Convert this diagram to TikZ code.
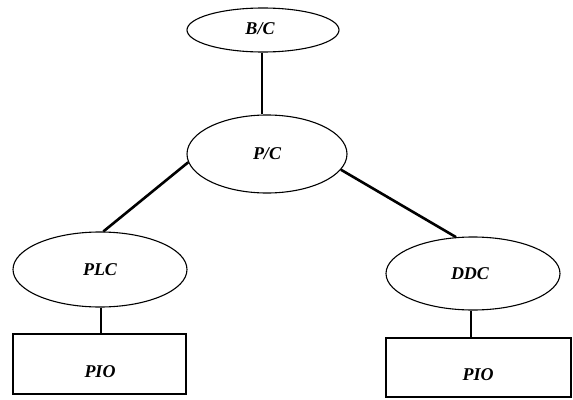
\documentclass[tikz,border=0pt]{standalone}
\usepackage{fontspec}
\setmainfont{Liberation Serif}
\usetikzlibrary{shapes.geometric}
\begin{document}
\begin{tikzpicture}[x=1pt,y=-1pt,
  lbl/.style={font=\fontsize{18}{20}\selectfont\bfseries\itshape, inner sep=0pt},
  unit/.style={draw, ellipse, line width=1.1pt, inner sep=0pt},
  iobox/.style={draw, rectangle, line width=1.1pt, inner sep=0pt},
  link/.style={line width=2.6pt}]
\useasboundingbox (0,0) rectangle (573,399);

% controller hierarchy
\node[unit, minimum width=152pt, minimum height=44pt] (bc) at (263,30) {};
\node[lbl] (bct) at (260,29) {B/C};
\node[unit, minimum width=160pt, minimum height=78pt] (pc) at (267,154) {};
\node[lbl] (pct) at (267,154) {P/C};
\node[unit, minimum width=174pt, minimum height=75pt] (plc) at (100,269.5) {};
\node[lbl] (plct) at (100,270) {PLC};
\node[unit, minimum width=174pt, minimum height=73pt] (ddc) at (473,273.5) {};
\node[lbl] (ddct) at (470,274) {DDC};

% process I/O boxes
\node[iobox, minimum width=173pt, minimum height=60pt] (pio1) at (99.5,364) {};
\node[lbl] (pio1t) at (100,372) {PIO};
\node[iobox, minimum width=185pt, minimum height=59pt] (pio2) at (478.5,367.5) {};
\node[lbl] (pio2t) at (478,375) {PIO};

% connectors
\draw[link] ([xshift=-1pt]bc.south) -- ([xshift=-1pt]bc.south |- pc.north);
\draw[link] (pc.186.5) -- (plc.85.5);
\draw[link] (pc.348.5) -- (ddc.115);
\draw[link] ([xshift=1pt]plc.south) -- ([xshift=1pt]plc.south |- pio1.north);
\draw[link] ([xshift=-2pt]ddc.south) -- ([xshift=-2pt]ddc.south |- pio2.north);
\end{tikzpicture}
\end{document}
